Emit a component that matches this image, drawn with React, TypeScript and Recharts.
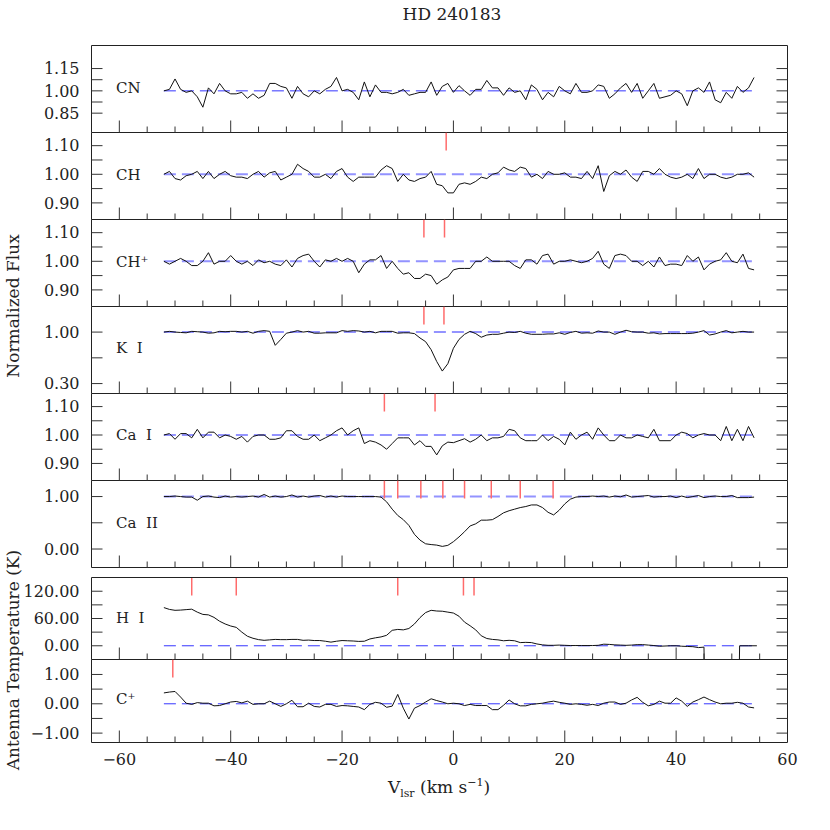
import { LineChart, Line, XAxis, YAxis, ReferenceLine } from 'recharts'

// page geometry (px)
const W = 830
const PLOT_L = 91.5
const PLOT_R = 787.5
const FONT = '"DejaVu Serif", serif'
const INK = '#222'

const X_DOMAIN: [number, number] = [-65, 60]
const X_MINOR = [-55, -50, -45, -35, -30, -25, -15, -10, -5, 5, 10, 15, 25, 30, 35, 45, 50, 55]
const X_MAJOR = [-60, -40, -20, 0, 20, 40]
const X_LABELS = [-60, -40, -20, 0, 20, 40, 60]

// velocity grid of the optical / C+ spectra, -52 .. 54 km/s
const V = Array.from({ length: 107 }, (_, i) => i - 52)

const CN = [
  1.00, 1.01, 1.08, 1.01, 0.99, 1.00, 0.96, 0.89, 1.02, 0.98,
  1.05, 1.00, 0.98, 0.98, 0.99, 0.95, 0.98, 0.95, 0.97, 1.05,
  1.05, 1.03, 1.02, 0.95, 1.03, 0.98, 0.96, 1.00, 0.98, 1.01,
  1.03, 1.09, 1.00, 1.01, 0.99, 0.94, 1.06, 0.96, 1.04, 0.99,
  0.99, 0.98, 0.99, 1.01, 0.97, 0.98, 0.99, 0.99, 1.06, 0.97,
  1.03, 1.05, 0.99, 1.035, 1.00, 0.97, 1.01, 1.01, 1.07, 1.02,
  1.02, 0.97, 1.02, 0.99, 1.00, 0.94, 1.04, 1.01, 0.94, 0.99,
  0.96, 1.03, 1.00, 0.98, 1.05, 0.99, 0.99, 1.00, 1.04, 1.03,
  0.95, 0.98, 1.02, 1.05, 0.99, 1.05, 0.95, 1.00, 1.05, 0.95,
  0.96, 0.97, 1.00, 0.98, 0.90, 1.00, 1.02, 0.99, 1.06, 0.94,
  0.92, 0.99, 0.95, 1.03, 0.99, 1.02, 1.09,
]

const CH = [
  1.00, 1.01, 0.985, 0.98, 0.995, 1.00, 1.01, 0.985, 1.01, 0.985,
  1.00, 1.01, 0.995, 0.99, 0.99, 0.985, 1.00, 1.01, 0.99, 1.005,
  1.01, 0.98, 0.99, 1.00, 1.035, 1.02, 1.01, 0.99, 0.99, 1.00,
  0.985, 1.01, 1.02, 0.99, 0.975, 0.99, 0.99, 0.99, 0.99, 1.015,
  1.03, 1.02, 0.975, 1.00, 0.98, 0.975, 0.985, 0.99, 1.01, 0.965,
  0.96, 0.935, 0.935, 0.965, 0.97, 0.965, 0.975, 0.99, 0.985, 1.00,
  1.005, 1.025, 1.015, 1.01, 1.025, 1.02, 0.99, 1.00, 0.985, 1.01,
  1.00, 1.00, 1.005, 0.99, 0.99, 0.985, 1.01, 0.985, 1.03, 0.94,
  0.995, 1.01, 1.00, 1.015, 0.99, 0.975, 1.01, 1.01, 1.00, 1.02,
  1.00, 0.99, 0.985, 0.99, 1.00, 0.985, 1.02, 0.985, 1.00, 1.00,
  0.99, 0.985, 0.99, 1.00, 1.00, 1.005, 0.99,
]

const CH_PLUS = [
  1.00, 0.99, 1.00, 1.01, 1.00, 0.985, 0.985, 1.00, 1.03, 0.99,
  1.00, 1.00, 1.02, 1.00, 0.99, 1.00, 0.985, 1.005, 0.995, 1.00,
  0.99, 0.985, 1.005, 0.98, 1.01, 1.02, 1.025, 1.00, 0.98, 1.005,
  1.00, 1.01, 1.00, 1.01, 1.00, 0.96, 0.99, 1.005, 1.005, 1.02,
  0.975, 1.00, 0.975, 0.955, 0.96, 0.94, 0.94, 0.955, 0.95, 0.92,
  0.935, 0.945, 0.97, 0.975, 0.975, 0.975, 1.00, 1.00, 1.015, 1.00,
  1.00, 1.00, 1.00, 0.985, 0.975, 1.005, 1.005, 0.99, 1.02, 1.025,
  0.99, 1.00, 1.00, 1.005, 1.00, 0.995, 1.00, 1.01, 1.035, 0.99,
  0.975, 1.02, 1.025, 1.02, 1.00, 1.00, 0.985, 1.00, 0.98, 1.015,
  0.985, 0.99, 0.99, 0.985, 1.02, 1.00, 1.015, 0.97, 0.99, 1.00,
  1.005, 1.03, 1.00, 0.995, 1.025, 0.975, 0.97,
]

const KI = [
  1.00, 1.01, 1.00, 0.995, 0.99, 1.01, 1.005, 1.00, 0.985, 0.99,
  1.01, 1.005, 1.01, 1.01, 1.00, 1.01, 0.985, 1.01, 1.02, 1.01,
  0.82, 0.90, 0.985, 1.00, 1.02, 1.00, 1.01, 0.985, 0.985, 0.99,
  0.99, 0.99, 1.02, 1.01, 1.02, 1.015, 1.00, 1.01, 0.99, 1.01,
  1.01, 1.01, 0.985, 0.99, 0.99, 0.98, 0.92, 0.87, 0.76, 0.60,
  0.47, 0.57, 0.78, 0.90, 0.97, 1.01, 0.98, 0.93, 0.96, 0.97,
  0.97, 0.985, 1.00, 0.995, 1.01, 0.985, 0.97, 0.97, 0.97, 0.975,
  0.975, 0.99, 0.97, 0.995, 1.01, 0.985, 0.99, 0.985, 1.015, 1.00,
  1.00, 0.97, 1.00, 1.025, 1.005, 1.00, 1.00, 0.985, 0.99, 0.975,
  0.98, 0.98, 0.98, 0.98, 0.98, 0.985, 1.00, 1.02, 0.96, 0.975,
  1.00, 1.02, 0.99, 1.00, 1.01, 1.00, 1.00,
]

const CA_I = [
  1.00, 1.005, 0.985, 1.005, 1.005, 0.99, 1.02, 0.99, 1.01, 1.01,
  0.99, 1.00, 0.995, 0.985, 0.995, 0.975, 0.995, 1.00, 1.00, 0.985,
  0.985, 0.99, 1.015, 1.015, 0.995, 0.985, 0.985, 1.00, 0.98, 0.99,
  1.00, 1.015, 1.025, 1.00, 1.015, 1.025, 0.97, 0.98, 0.975, 0.965,
  0.95, 0.97, 0.99, 0.99, 0.99, 0.965, 0.98, 0.96, 0.96, 0.93,
  0.962, 0.975, 0.973, 0.98, 0.987, 0.975, 0.985, 1.00, 0.98, 0.99,
  0.99, 0.995, 1.02, 1.015, 0.99, 0.98, 0.98, 0.98, 1.00, 0.98,
  0.995, 0.985, 0.965, 1.01, 0.985, 1.00, 1.01, 0.985, 1.025, 1.00,
  0.98, 0.98, 1.00, 0.99, 0.99, 1.00, 0.995, 0.99, 1.02, 0.98,
  0.98, 0.98, 1.00, 1.01, 1.005, 0.99, 1.00, 1.005, 1.00, 1.00,
  0.98, 1.03, 0.98, 1.02, 0.98, 1.03, 0.99,
]

const CA_II = [
  1.00, 1.00, 1.01, 1.00, 0.99, 0.99, 0.93, 1.00, 1.01, 0.99,
  0.98, 1.01, 0.99, 1.00, 0.99, 1.00, 1.01, 0.99, 1.04, 0.99,
  1.01, 0.99, 1.00, 1.03, 0.99, 1.01, 0.99, 1.01, 1.02, 0.99,
  1.01, 0.99, 1.01, 1.00, 1.00, 1.00, 1.00, 1.00, 1.00, 0.99,
  0.90, 0.76, 0.64, 0.56, 0.45, 0.28, 0.17, 0.10, 0.085, 0.075,
  0.05, 0.07, 0.14, 0.23, 0.33, 0.44, 0.48, 0.55, 0.55, 0.56,
  0.62, 0.69, 0.73, 0.76, 0.79, 0.81, 0.84, 0.84, 0.79, 0.70,
  0.65, 0.74, 0.86, 0.95, 0.99, 1.00, 1.00, 1.01, 1.00, 1.01,
  0.99, 1.01, 0.995, 1.03, 0.99, 1.00, 1.01, 1.02, 0.99, 1.00,
  1.00, 1.01, 0.98, 1.01, 0.98, 1.00, 1.02, 0.98, 1.00, 1.01,
  1.00, 1.00, 1.02, 0.98, 0.98, 0.98, 0.99,
]

// H I: antenna temperature (K); goes off the bottom of the panel near +45..+51
const HI_V = [
  -52, -51, -50, -49, -48, -47, -46, -45, -44, -43, -42, -41, -40, -39, -38, -37, -36, -35, -34, -33,
  -32, -31, -30, -29, -28, -27, -26, -25, -24, -23, -22, -21, -20, -19, -18, -17, -16, -15, -14, -13,
  -12, -11, -10, -9, -8, -7, -6, -5, -4, -3, -2, -1, 0, 1, 2, 3, 4, 5, 6, 7,
  8, 9, 10, 11, 12, 13, 14, 15, 16, 17, 18, 19, 20, 21, 22, 23, 24, 25, 26, 27,
  28, 29, 30, 31, 32, 33, 34, 35, 36, 37, 38, 39, 40, 41, 42, 43, 44, 45, 45.1, 51.3,
  51.4, 52, 53, 54.5,
]
const HI_T = [
  84, 80, 78, 78.5, 79.5, 80.5, 74, 69, 68, 62.5, 54, 48, 43.5, 40.5, 30, 21, 16.5, 13.5, 12, 13,
  14, 13.5, 13.5, 14, 14, 12, 12.5, 11.5, 11.5, 10, 8, 10, 11.5, 11, 10.5, 9.6, 10, 15, 17.5, 19.5,
  23, 34, 36, 35, 38, 48, 62, 73, 78, 76.5, 76, 74, 72, 65, 52, 44, 35, 22, 16, 14,
  13, 11, 12, 11, 7, 7.5, 7, 4, 2, 1, 1, 1.5, 1, 0.5, 0.5, 0.5, 0.5, 0.5, 1, 3.5,
  3, 2, 1.5, 1, 1.5, 2.5, 2.5, 1.5, 0.5, -1, -0.5, 0, 0, -1, -1.5, -2, -4, -3, -80, -80,
  0, 0, 0, 0,
]

const C_PLUS = [
  0.37, 0.40, 0.42, 0.23, 0.02, -0.02, 0.04, 0.02, 0.02, -0.07,
  -0.06, 0.00, 0.06, 0.08, 0.03, 0.09, -0.02, 0.00, 0.00, 0.09,
  0.00, -0.09, 0.00, 0.12, -0.10, -0.10, 0.02, -0.09, -0.11, -0.02,
  -0.02, -0.09, -0.06, -0.07, -0.09, -0.11, -0.20, -0.02, 0.05, 0.02,
  -0.12, -0.08, 0.32, -0.15, -0.52, -0.15, -0.06, 0.06, 0.17, 0.11,
  0.06, 0.00, 0.02, 0.00, -0.06, -0.02, -0.06, -0.06, -0.06, -0.20,
  -0.20, -0.05, 0.13, 0.00, -0.07, -0.07, -0.02, 0.00, 0.02, 0.06,
  0.09, 0.05, 0.02, -0.02, 0.00, -0.02, -0.05, -0.02, -0.06, 0.02,
  0.06, 0.06, -0.02, 0.02, 0.13, 0.22, 0.05, -0.07, -0.02, 0.09,
  0.02, 0.02, 0.20, 0.09, -0.09, 0.06, 0.14, 0.23, 0.14, 0.06,
  0.00, 0.02, 0.02, 0.05, 0.02, -0.11, -0.14,
]

// component velocities marked in red at the top of each panel
const MARKS_CH = [-1.3]
const MARKS_CH_PLUS = [-5.3, -1.6]
const MARKS_KI = [-5.3, -1.7]
const MARKS_CA_I = [-12.4, -3.3]
const MARKS_CA_II = [-12.4, -10.0, -5.85, -1.9, 2.0, 6.8, 12.0, 17.9]
const MARKS_HI = [-47.0, -39.0, -10.0, 1.8, 3.7]
const MARKS_C_PLUS = [-50.4]

interface Panel {
  label: string
  top: number
  height: number
  labelY: number
  domain: [number, number]
  ticks: number[]
  labelTicks: number[]
  vel: number[]
  vals: number[]
  base: number
  marks: number[]
  dash: string
  dashW: number
  topLine: boolean
}

const LAV = '#9393ff'
const BLUE = '#3535ff'

const PANELS: Panel[] = [
  { label: 'CN', top: 45, height: 87, labelY: 87, domain: [0.72, 1.305], ticks: [0.85, 0.925, 1.0, 1.075, 1.15], labelTicks: [0.85, 1.0, 1.15], vel: V, vals: CN, base: 1, marks: [], dash: BLUE, dashW: 1, topLine: true },
  { label: 'CH', top: 132, height: 87, labelY: 174, domain: [0.842, 1.146], ticks: [0.9, 0.95, 1.0, 1.05, 1.1], labelTicks: [0.9, 1.0, 1.1], vel: V, vals: CH, base: 1, marks: MARKS_CH, dash: LAV, dashW: 2, topLine: false },
  { label: 'CH\u207A', top: 219, height: 87, labelY: 261, domain: [0.842, 1.146], ticks: [0.9, 0.95, 1.0, 1.05, 1.1], labelTicks: [0.9, 1.0, 1.1], vel: V, vals: CH_PLUS, base: 1, marks: MARKS_CH_PLUS, dash: LAV, dashW: 2, topLine: false },
  { label: 'K  I', top: 306, height: 87, labelY: 347, domain: [0.165, 1.348], ticks: [0.3, 0.65, 1.0], labelTicks: [0.3, 1.0], vel: V, vals: KI, base: 1, marks: MARKS_KI, dash: LAV, dashW: 2, topLine: false },
  { label: 'Ca  I', top: 393, height: 87, labelY: 434, domain: [0.84, 1.146], ticks: [0.9, 0.95, 1.0, 1.05, 1.1], labelTicks: [0.9, 1.0, 1.1], vel: V, vals: CA_I, base: 1, marks: MARKS_CA_I, dash: LAV, dashW: 2, topLine: false },
  { label: 'Ca  II', top: 480, height: 87, labelY: 522, domain: [-0.352, 1.306], ticks: [0, 0.5, 1.0], labelTicks: [0, 1.0], vel: V, vals: CA_II, base: 1, marks: MARKS_CA_II, dash: LAV, dashW: 2, topLine: false },
  { label: 'H  I', top: 577, height: 82, labelY: 617, domain: [-30.2, 150.2], ticks: [0, 30, 60, 90, 120], labelTicks: [0, 60, 120], vel: HI_V, vals: HI_T, base: 0, marks: MARKS_HI, dash: BLUE, dashW: 1, topLine: true },
  { label: 'C\u207A', top: 659, height: 83, labelY: 698, domain: [-1.32, 1.51], ticks: [-1, -0.5, 0, 0.5, 1], labelTicks: [-1, 0, 1], vel: V, vals: C_PLUS, base: 0, marks: MARKS_C_PLUS, dash: BLUE, dashW: 1, topLine: false },
]

const DASH_FROM = -52
const DASH_TO = 54.5
const MARK_PX = 18
const MINOR_PX = 6
const MAJOR_PX = 12
const MT = 3.5
const MB = 2.5

const fmtY = (n: number) => (n < 0 ? '\u2212' + Math.abs(n).toFixed(2) : n.toFixed(2))
const fmtX = (n: number) => (n < 0 ? '\u2212' + Math.abs(n) : String(n))
const noLabel = () => ''

// short vertical strokes built from tick / marker velocities, broken by nulls
function strokes(ticks: number[], y0: number, y1: number) {
  return ticks.flatMap((t) => [
    { v: t, f: y0 },
    { v: t, f: y1 },
    { v: t, f: null },
  ])
}

// separate overlay holding only the inward velocity ticks of one panel (no clipping)
function TickOverlay({ p, extra }: { p: Panel; extra: number }) {
  const perPx = (p.domain[1] - p.domain[0]) / p.height
  const lo = p.domain[0]
  const minorTicks = strokes(X_MINOR, lo, lo + MINOR_PX * perPx)
  const majorTicks = strokes(X_MAJOR, lo, lo + MAJOR_PX * perPx)
  const h = p.height + MT + MB + extra
  return (
    <div style={{ position: 'absolute', left: 0, top: p.top - MT + 0.5, pointerEvents: 'none' }}>
      <LineChart width={W} height={h} margin={{ top: MT, right: W - PLOT_R, bottom: MB + extra, left: PLOT_L }}>
        <XAxis xAxisId="t" type="number" dataKey="v" domain={X_DOMAIN} hide />
        <YAxis yAxisId="t" type="number" domain={p.domain} hide />
        <Line xAxisId="t" yAxisId="t" data={minorTicks} dataKey="f" type="linear" stroke="#333" strokeWidth={1}
          connectNulls={false} dot={false} activeDot={false} isAnimationActive={false} />
        <Line xAxisId="t" yAxisId="t" data={majorTicks} dataKey="f" type="linear" stroke="#333" strokeWidth={1}
          connectNulls={false} dot={false} activeDot={false} isAnimationActive={false} />
      </LineChart>
    </div>
  )
}

function SpecPanel({ p, last }: { p: Panel; last: boolean }) {
  const rows = p.vel.map((v, i) => ({ v, f: p.vals[i] }))
  const extra = last ? 34 : 0
  const h = p.height + MT + MB + extra
  const perPx = (p.domain[1] - p.domain[0]) / p.height
  const hi = p.domain[1]
  const markStrokes = strokes(p.marks, hi, hi - MARK_PX * perPx)
  const axisStroke = { stroke: INK, strokeWidth: 1 }
  const tickStroke = { stroke: '#333', strokeWidth: 1 }
  return (
    <>
      <div style={{ position: 'absolute', left: 0, top: p.top - MT + 0.5 }}>
        <LineChart width={W} height={h} data={rows} margin={{ top: MT, right: W - PLOT_R, bottom: MB, left: PLOT_L - 60 }}>
          <XAxis xAxisId="x" type="number" dataKey="v" domain={X_DOMAIN} allowDataOverflow
            mirror height={1} tick={false} tickLine={false} axisLine={axisStroke} />
          {p.topLine && (
            <XAxis xAxisId="top" orientation="top" type="number" dataKey="v" domain={X_DOMAIN} allowDataOverflow
              mirror height={1} tick={false} tickLine={false} axisLine={axisStroke} />
          )}
          {last && (
            <XAxis xAxisId="lab" type="number" dataKey="v" domain={X_DOMAIN} allowDataOverflow ticks={X_LABELS} interval={0}
              height={34} tickLine={false} axisLine={false} tickSize={0} tickMargin={11} tickFormatter={fmtX}
              tick={{ fill: INK, fontSize: 16, fontFamily: FONT }} />
          )}
          <YAxis yAxisId="lab" type="number" domain={p.domain} allowDataOverflow ticks={p.labelTicks} interval={0}
            width={60} tickLine={false} tickSize={0} tickMargin={12} axisLine={axisStroke} tickFormatter={fmtY}
            tick={{ fill: INK, fontSize: 16, fontFamily: FONT }} />
          <YAxis yAxisId="inL" type="number" domain={p.domain} allowDataOverflow ticks={p.ticks} interval={0}
            mirror width={1} tickFormatter={noLabel} tickSize={11} tickLine={tickStroke} axisLine={false} />
          <YAxis yAxisId="inR" orientation="right" type="number" domain={p.domain} allowDataOverflow ticks={p.ticks} interval={0}
            mirror width={1} tickFormatter={noLabel} tickSize={11} tickLine={tickStroke} axisLine={axisStroke} />
          <ReferenceLine xAxisId="x" yAxisId="lab" ifOverflow="visible"
            segment={[{ x: DASH_FROM, y: p.base }, { x: DASH_TO, y: p.base }]}
            stroke={p.dash} strokeWidth={p.dashW} strokeDasharray="12 6" />
          {p.marks.length > 0 && (
            <Line xAxisId="x" yAxisId="lab" data={markStrokes} dataKey="f" type="linear" stroke="#ff6b6b" strokeWidth={1.5}
              connectNulls={false} dot={false} activeDot={false} isAnimationActive={false} />
          )}
          <Line xAxisId="x" yAxisId="lab" dataKey="f" type="linear" stroke="#111" strokeWidth={1}
            dot={false} activeDot={false} isAnimationActive={false} />
        </LineChart>
        <div style={{ position: 'absolute', left: 116, top: p.labelY - (p.top - MT) - 11, fontSize: 15, lineHeight: '22px',
          fontFamily: FONT, color: INK, whiteSpace: 'pre' }}>{p.label}</div>
      </div>
      <TickOverlay p={p} extra={extra} />
    </>
  )
}

export default function App() {
  return (
    <div style={{ position: 'absolute', left: 0, top: 0, width: W, height: 830, background: '#fff', fontFamily: FONT, color: INK }}>
      <div style={{ position: 'absolute', left: 352, top: 3, width: 200, textAlign: 'center', fontSize: 17, lineHeight: '22px' }}>HD 240183</div>
      {PANELS.map((p, i) => (
        <SpecPanel key={p.label} p={p} last={i === PANELS.length - 1} />
      ))}
      <div style={{ position: 'absolute', left: 13 - 150, top: 306 - 12, width: 300, height: 24, lineHeight: '24px', textAlign: 'center',
        fontSize: 17, transform: 'rotate(-90deg)' }}>Normalized Flux</div>
      <div style={{ position: 'absolute', left: 13 - 150, top: 660 - 12, width: 300, height: 24, lineHeight: '24px', textAlign: 'center',
        fontSize: 17, transform: 'rotate(-90deg)' }}>Antenna Temperature (K)</div>
      <div style={{ position: 'absolute', left: 289, top: 771, width: 300, textAlign: 'center', fontSize: 17, lineHeight: '24px' }}>
        V<sub style={{ fontSize: 11 }}>lsr</sub> (km s<sup style={{ fontSize: 11 }}>{'\u2212'}1</sup>)
      </div>
    </div>
  )
}
